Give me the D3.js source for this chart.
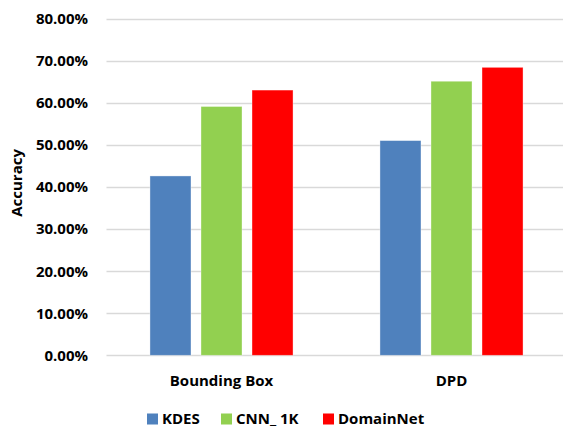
<!DOCTYPE html>
<html>
<head>
<meta charset="utf-8">
<script src="https://cdn.jsdelivr.net/npm/d3@7"></script>
<style>
  body { margin: 0; background: #fff; }
  text { font-family: "Open Sans", Lato, sans-serif; font-weight: bold; fill: #000; }
</style>
</head>
<body>
<svg id="chart"></svg>
<script>
// data
const categories = ["Bounding Box", "DPD"];
const seriesNames = ["KDES", "CNN_ 1K", "DomainNet"];
const kdes = [0.426, 0.510];
const cnn1k = [0.591, 0.651];
const domainNet = [0.630, 0.684];
const yTicks = [0, 0.1, 0.2, 0.3, 0.4, 0.5, 0.6, 0.7, 0.8];
const colors = ["#4F81BD", "#92D050", "#FF0000"];

const width = 563, height = 429;
const plotLeft = 106.5, plotRight = 566.5, plotTop = 18.5, plotBottom = 355.3;

const svg = d3.select("#chart").attr("width", width).attr("height", height);

const series = [kdes, cnn1k, domainNet];

const x0 = d3.scaleBand()
  .domain(categories)
  .range([plotLeft, plotRight])
  .paddingInner(0.378)
  .paddingOuter(0.189);

const x1 = d3.scaleBand()
  .domain(seriesNames)
  .range([0, x0.bandwidth()])
  .paddingInner(0.196);

const y = d3.scaleLinear().domain([0, 0.8]).range([plotBottom, plotTop]);

// gridlines
svg.append("g")
  .selectAll("line")
  .data(yTicks)
  .join("line")
  .attr("x1", plotLeft)
  .attr("x2", plotRight)
  .attr("y1", d => Math.round(y(d)) + 0.5)
  .attr("y2", d => Math.round(y(d)) + 0.5)
  .attr("stroke", "#d9d9d9")
  .attr("stroke-width", 1.3);

// y tick labels
svg.append("g")
  .selectAll("text")
  .data(yTicks)
  .join("text")
  .attr("x", 88)
  .attr("y", d => y(d))
  .attr("dy", "0.36em")
  .attr("text-anchor", "end")
  .attr("font-size", "15px")
  .text(d => d3.format(".2%")(d));

// bars
const groups = svg.append("g")
  .selectAll("g")
  .data(categories)
  .join("g")
  .attr("transform", d => `translate(${x0(d)},0)`);

groups.selectAll("rect")
  .data((c, i) => seriesNames.map((s, j) => ({ s, v: series[j][i], color: colors[j] })))
  .join("rect")
  .attr("x", d => x1(d.s))
  .attr("y", d => y(d.v))
  .attr("width", x1.bandwidth())
  .attr("height", d => plotBottom - y(d.v))
  .attr("fill", d => d.color)
  .attr("stroke", "rgba(255,255,255,0.45)")
  .attr("stroke-width", 0.8);

// category labels
svg.append("g")
  .selectAll("text")
  .data(categories)
  .join("text")
  .attr("x", d => x0(d) + x0.bandwidth() / 2)
  .attr("y", 386)
  .attr("text-anchor", "middle")
  .attr("font-size", "15px")
  .text(d => d);

// y axis title
svg.append("text")
  .attr("transform", `translate(22,${(plotTop + plotBottom) / 2 - 4}) rotate(-90)`)
  .attr("text-anchor", "middle")
  .attr("font-size", "15px")
  .text("Accuracy");

// legend
const legendX = [147, 221, 323];
const legend = svg.append("g")
  .selectAll("g")
  .data(seriesNames)
  .join("g")
  .attr("transform", (d, i) => `translate(${legendX[i]},419)`);

legend.append("rect")
  .attr("x", 0)
  .attr("y", -5.5)
  .attr("width", 11)
  .attr("height", 11)
  .attr("fill", (d, i) => colors[i]);

legend.append("text")
  .attr("x", 15)
  .attr("y", 0)
  .attr("dy", "0.36em")
  .attr("font-size", "15px")
  .text(d => d);
</script>
</body>
</html>
